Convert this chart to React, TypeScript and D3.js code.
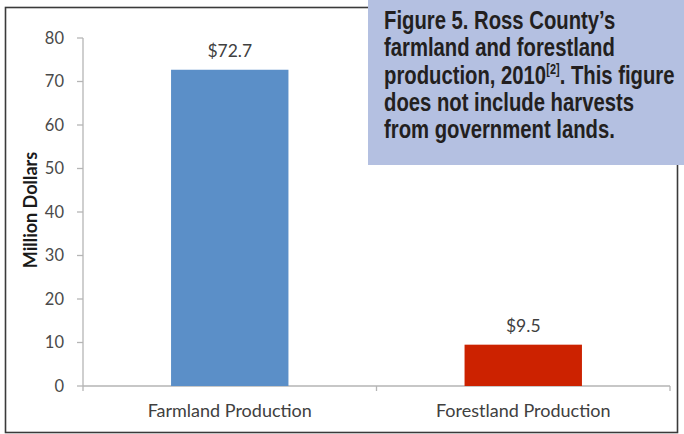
import React, { useEffect, useRef } from "react";
import * as d3 from "d3";

const categories = ["Farmland Production", "Forestland Production"];
const values = [72.7, 9.5];
const valueLabels = ["$72.7", "$9.5"];
const barColors = ["#5b8fc8", "#cc2200"];
const yTicks = [0, 10, 20, 30, 40, 50, 60, 70, 80];
// title pieces: [text, line index, is superscript]
const titlePieces: [string, number, boolean][] = [
  ["Figure 5. Ross County\u2019s", 0, false],
  ["farmland and forestland", 1, false],
  ["production, 2010", 2, false],
  ["[2]", 2, true],
  [". This figure", 2, false],
  ["does not include harvests", 3, false],
  ["from government lands.", 4, false],
];
const yAxisTitle = "Million Dollars";

const W = 684;
const H = 434;
const plot = { left: 83, right: 670, top: 35, bottom: 386 };
const titleBox = { x: 368, w: W - 368, h: 165, textX: 384 };

export default function App() {
  const titleRef = useRef<SVGGElement>(null);

  const x = d3
    .scaleBand<string>()
    .domain(categories)
    .range([plot.left, plot.right])
    .paddingInner(0.6)
    .paddingOuter(0.3);
  const y = d3.scaleLinear().domain([0, 80]).range([plot.bottom, plot.top + 3]);
  const band = (plot.right - plot.left) / categories.length;
  const labelFont = "Lato, 'Open Sans', sans-serif";
  const titleFont = "'Liberation Sans', Arial, sans-serif";

  useEffect(() => {
    const g = d3.select(titleRef.current);
    g.selectAll("*").remove();
    const condense = 0.78;
    const cursor: number[] = [0, 0, 0, 0, 0];
    titlePieces.forEach(([txt, line, sup]) => {
      const baseY = 29 + line * 27.3;
      const t = g
        .append("text")
        .attr("x", 0)
        .attr("y", 0)
        .attr("font-family", titleFont)
        .attr("font-weight", "bold")
        .attr("font-size", sup ? 14 : 26)
        .attr("fill", "#231f20")
        .text(txt);
      const len = (t.node() as SVGTextElement).getComputedTextLength();
      t.attr(
        "transform",
        `translate(${titleBox.textX + cursor[line]},${sup ? baseY - 10 : baseY}) scale(${condense},1)`
      );
      cursor[line] += len * condense;
    });
  }, []);

  return (
    <svg
      width={W}
      height={H}
      style={{ position: "absolute", left: 0, top: 0, background: "#fff" }}
    >
      {/* frame */}
      <rect x={5.5} y={7.5} width={672} height={425} fill="none" stroke="#3a3a3a" strokeWidth={1.6} />

      {/* y axis */}
      <line x1={plot.left} x2={plot.left} y1={y(80)} y2={y(0)} stroke="#b5b5b5" strokeWidth={1.3} />
      {yTicks.map((t) => (
        <g key={t}>
          <line x1={plot.left - 6} x2={plot.left} y1={y(t)} y2={y(t)} stroke="#b5b5b5" strokeWidth={1.3} />
          <text
            x={64}
            y={y(t)}
            dy="0.36em"
            textAnchor="end"
            fontFamily={labelFont}
            fontSize={16.5}
            fill="#4a4a4a"
          >
            {t}
          </text>
        </g>
      ))}

      {/* x axis */}
      <line x1={plot.left} x2={plot.right} y1={y(0)} y2={y(0)} stroke="#b5b5b5" strokeWidth={1.3} />
      {[0, 1, 2].map((i) => (
        <line
          key={i}
          x1={plot.left + i * band}
          x2={plot.left + i * band}
          y1={y(0)}
          y2={y(0) + 5}
          stroke="#b5b5b5"
          strokeWidth={1.3}
        />
      ))}

      {/* bars */}
      {categories.map((c, i) => (
        <g key={c}>
          <rect
            x={x(c)}
            y={y(values[i])}
            width={x.bandwidth()}
            height={y(0) - y(values[i])}
            fill={barColors[i]}
          />
          <text
            x={(x(c) as number) + x.bandwidth() / 2}
            y={y(values[i]) - 13}
            textAnchor="middle"
            fontFamily={labelFont}
            fontSize={17.5}
            fill="#404040"
          >
            {valueLabels[i]}
          </text>
          <text
            x={(x(c) as number) + x.bandwidth() / 2}
            y={417}
            textAnchor="middle"
            fontFamily={labelFont}
            fontSize={18}
            fill="#404040"
          >
            {c}
          </text>
        </g>
      ))}

      {/* y axis title */}
      <text
        transform={`translate(37,210) rotate(-90)`}
        textAnchor="middle"
        fontFamily={labelFont}
        fontWeight="bold"
        fontSize={18}
        fill="#1a1a1a"
      >
        {yAxisTitle}
      </text>

      {/* title box */}
      <rect x={titleBox.x} y={0} width={titleBox.w} height={titleBox.h} fill="#b4c0e1" />
      <g ref={titleRef} />
    </svg>
  );
}
